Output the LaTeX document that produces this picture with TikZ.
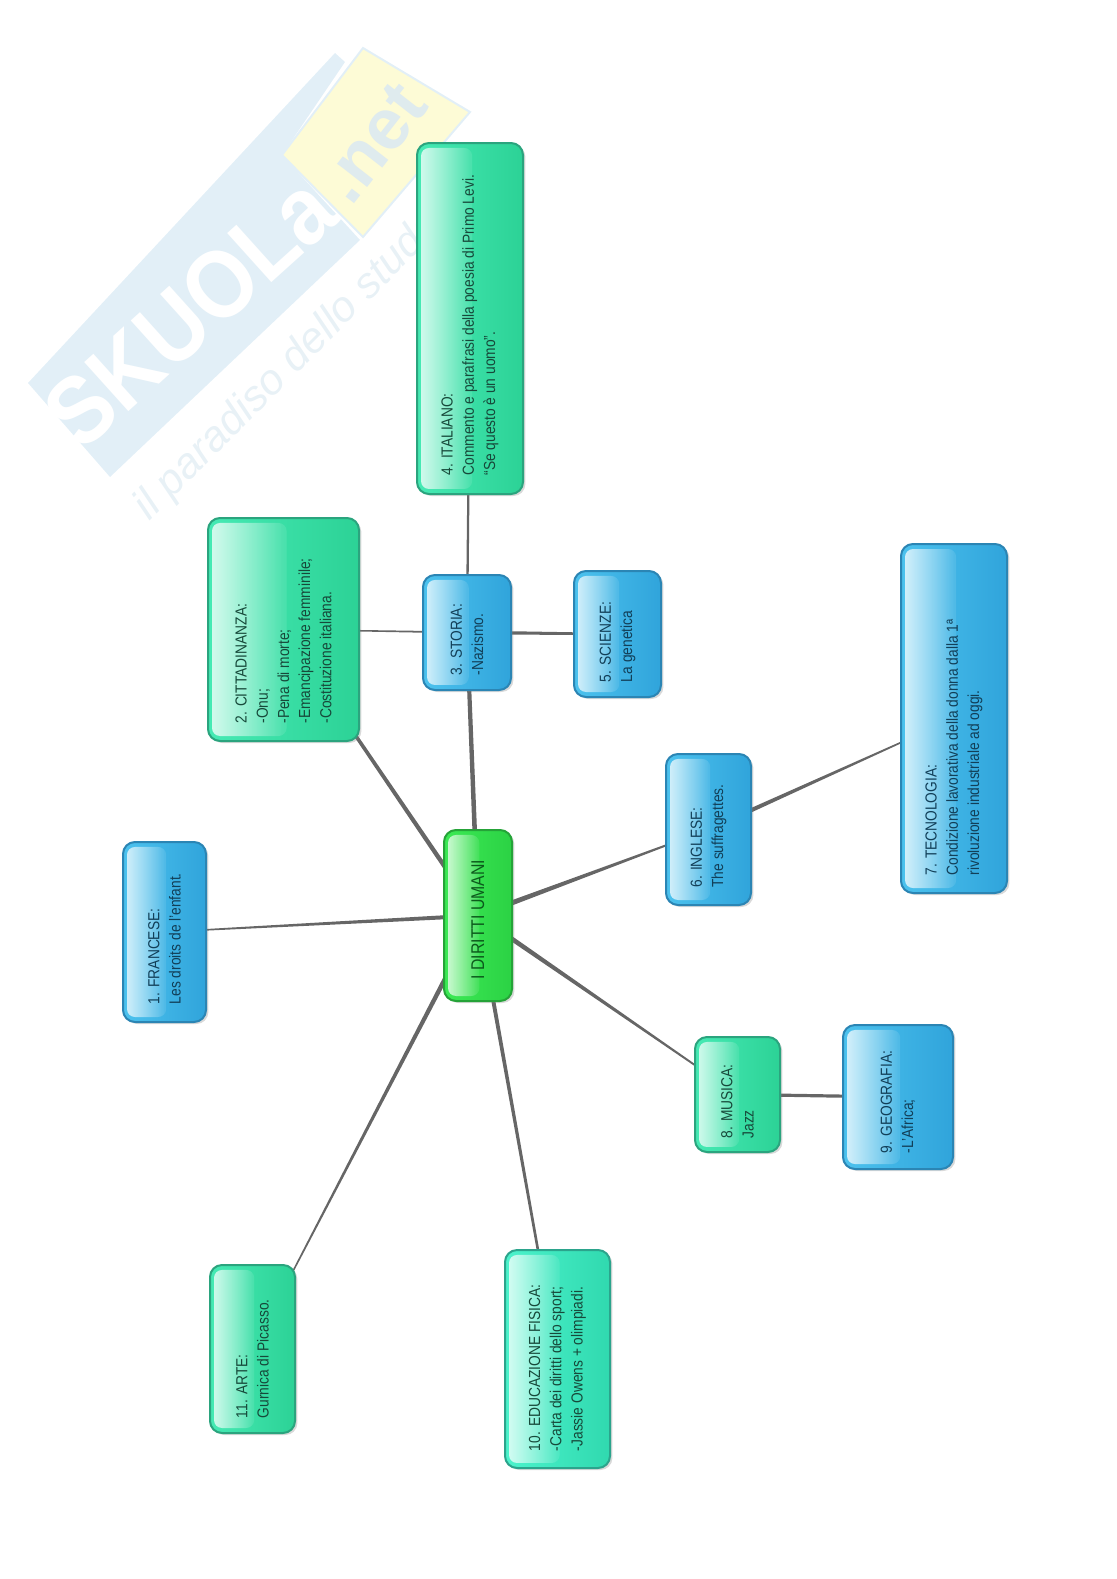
\documentclass[tikz,border=0pt]{standalone}
\usepackage{xcolor}
\usepackage{fontspec}
\usepackage{graphicx}
\usepackage{tikz}
\usetikzlibrary{positioning, calc, backgrounds, shadows, fadings}
\setmainfont[FakeStretch=0.86]{Liberation Sans}
\newfontfamily\markfont{Liberation Sans}
\definecolor{bluerim}{HTML}{2B85B4}
\definecolor{bluebase}{HTML}{4CC2EE}
\definecolor{bluedark}{HTML}{30A4DB}
\definecolor{tealrim}{HTML}{2BA47E}
\definecolor{tealbase}{HTML}{46EAB4}
\definecolor{tealdark}{HTML}{2CD296}
\definecolor{aquarim}{HTML}{2BA48C}
\definecolor{aquabase}{HTML}{4CF3CC}
\definecolor{aquadark}{HTML}{30D9AF}
\definecolor{greenrim}{HTML}{25A338}
\definecolor{greenbase}{HTML}{3CEA55}
\definecolor{greendark}{HTML}{2BD244}
\definecolor{bluetext}{HTML}{123F58}
\definecolor{tealtext}{HTML}{17493A}
\definecolor{greentext}{HTML}{0C5A1C}
\definecolor{linkgray}{HTML}{666666}
\definecolor{markblue}{HTML}{E2EFF7}
\definecolor{markyellow}{HTML}{FDFBD6}
\definecolor{marktext}{HTML}{E8F1F6}
\definecolor{marknet}{HTML}{DFEBEE}
\tikzfading[name=glossfade, left color=transparent!0, right color=transparent!100, middle color=transparent!88]
\newcommand{\turned}[2]{\rotatebox{90}{\parbox{#1}{\raggedright\fontsize{8}{10.6}\selectfont #2}}}
\tikzset{
  mapbox/.style={
    rectangle, rounded corners=6pt, inner sep=0pt,
    text centered, line width=1pt,
    drop shadow={shadow xshift=1.2pt, shadow yshift=-1pt, opacity=0.3},
    path picture={
      \fill[white, fill opacity=0.8, path fading=glossfade, rounded corners=4pt]
        ([shift={(2pt,-2.5pt)}]path picture bounding box.north west) rectangle
        ($(path picture bounding box.south west)!0.52!(path picture bounding box.south east)+(0,2.5pt)$);
    },
  },
  bluebox/.style={mapbox, draw=bluerim, left color=bluebase, middle color=bluebase, right color=bluedark, text=bluetext},
  tealbox/.style={mapbox, draw=tealrim, left color=tealbase, middle color=tealbase, right color=tealdark, text=tealtext},
  aquabox/.style={mapbox, draw=aquarim, left color=aquabase, middle color=aquabase, right color=aquadark, text=tealtext},
  rootbox/.style={mapbox, draw=greenrim, left color=greenbase, middle color=greenbase, right color=greendark, text=greentext},
  size/.style 2 args={minimum width=#1, minimum height=#2},
  link/.style={fill=linkgray},
  taper/.style 2 args={to path={
    let \p1=($(\tikztotarget.center)-(\tikztostart.center)$), \n1={atan2(\y1,\x1)+90} in
    ($(\tikztostart.center)+(\n1:#1)$) -- ($(\tikztotarget.center)+(\n1:#2)$) --
    ($(\tikztotarget.center)+(\n1:-#2)$) -- ($(\tikztostart.center)+(\n1:-#1)$) -- cycle}},
}

\begin{document}
\begin{tikzpicture}

  \useasboundingbox (0,0) rectangle (558pt,-789.5pt);

  % Centre
  \node[rootbox, size={34pt}{85.5pt}] (umani) at (239pt,-457.75pt)
    {\rotatebox{90}{\fontsize{9.2}{10}\selectfont I DIRITTI UMANI\hspace{4pt}}};

  % Upper branch
  \node[bluebox, size={44pt}{57.5pt}, above=69pt of umani, xshift=-5.5pt] (storia)
    {\turned{43pt}{3. STORIA:\\-Nazismo.}};
  \node[bluebox, size={43.5pt}{63pt}, right=30.5pt of storia, yshift=-0.75pt] (scienze)
    {\turned{48pt}{5. SCIENZE:\\La genetica}};
  \node[tealbox, size={53pt}{175.5pt}, above=39.5pt of storia, xshift=1.5pt] (italiano)
    {\turned{157pt}{4. ITALIANO:\\Commento e parafrasi della poesia di Primo Levi.\\``Se questo è un uomo''.}};
  \node[tealbox, size={75.5pt}{111.5pt}, left=31pt of storia, yshift=1.5pt] (cittadinanza)
    {\turned{94pt}{2. CITTADINANZA:\\-Onu;\\-Pena di morte;\\-Emancipazione femminile;\\-Costituzione italiana.}};

  % Left
  \node[bluebox, size={41.5pt}{90pt}, left=118pt of umani, yshift=-8.25pt] (francese)
    {\turned{72pt}{1. FRANCESE:\\Les droits de l'enfant.}};

  % Right
  \node[bluebox, size={42.5pt}{75.5pt}, right=76pt of umani, yshift=43pt] (inglese)
    {\turned{58pt}{6. INGLESE:\\The suffragettes.}};
  \node[bluebox, size={53pt}{174.5pt}, right=74pt of inglese, yshift=55.5pt] (tecnologia)
    {\turned{157pt}{7. TECNOLOGIA:\\Condizione lavorativa della donna dalla 1ª\\rivoluzione industriale ad oggi.}};
  \node[tealbox, size={42.5pt}{57.5pt}, right=90.5pt of umani, yshift=-89.5pt] (musica)
    {\turned{44pt}{8. MUSICA:\\Jazz}};
  \node[bluebox, size={55pt}{72pt}, right=30.5pt of musica, yshift=-1.25pt] (geografia)
    {\turned{56pt}{9. GEOGRAFIA:\\-L'Africa;}};

  % Lower branch
  \node[aquabox, size={52.5pt}{109pt}, below=123.5pt of umani, xshift=39.75pt] (educazione)
    {\turned{92pt}{10. EDUCAZIONE FISICA:\\-Carta dei diritti dello sport;\\-Jassie Owens + olimpiadi.}};
  \node[tealbox, size={42.5pt}{84pt}, below=131pt of umani, xshift=-112.75pt] (arte)
    {\turned{69pt}{11. ARTE:\\Gurnica di Picasso.}};

  \begin{scope}[on background layer]
    % Watermark
    \begin{scope}[x=0.5pt, y=-0.5pt]
      \fill[markblue] (28,383) -- (335,53) -- (345,62) -- (282,155) -- (360,240) -- (110,477) -- cycle;
      \filldraw[fill=markyellow, draw=markblue, line width=1pt] (282,155) -- (363,48) -- (470,112) -- (363,237) -- cycle;
      \node[rotate=42, text=white, inner sep=0pt] (markname) at (190,312)
        {\scalebox{0.9}[1]{\markfont\fontsize{48}{48}\selectfont\bfseries SKUOLa}};
      \node[rotate=52, text=marknet, inner sep=0pt] (marksite) at (373,143)
        {\markfont\fontsize{36}{36}\selectfont\bfseries .net};
      \node[rotate=45, text=marktext, inner sep=0pt] (markline) at (310,345)
        {\markfont\fontsize{21.5}{22}\selectfont\itshape il paradiso dello studente};
    \end{scope}

    % Connectors
    \fill[link, taper={1.2pt}{1pt}] (umani) to (storia);
    \fill[link, taper={1.2pt}{0.7pt}] (umani) to (cittadinanza);
    \fill[link, taper={1.1pt}{0.3pt}] (umani) to (francese);
    \fill[link, taper={1.4pt}{0.3pt}] (umani) to (inglese);
    \fill[link, taper={1.3pt}{0.3pt}] (umani) to (musica);
    \fill[link, taper={1.1pt}{0.5pt}] (umani) to (educazione);
    \fill[link, taper={1.3pt}{0.2pt}] (umani) to (arte);
    \fill[link, taper={0.6pt}{0.5pt}] (storia) to (italiano);
    \fill[link, taper={0.5pt}{0.3pt}] (storia) to (cittadinanza);
    \fill[link, taper={1pt}{0.5pt}] (storia) to (scienze);
    \fill[link, taper={1.2pt}{0.2pt}] (inglese) to (tecnologia);
    \fill[link, taper={0.8pt}{0.8pt}] (musica) to (geografia);
  \end{scope}

\end{tikzpicture}
\end{document}
